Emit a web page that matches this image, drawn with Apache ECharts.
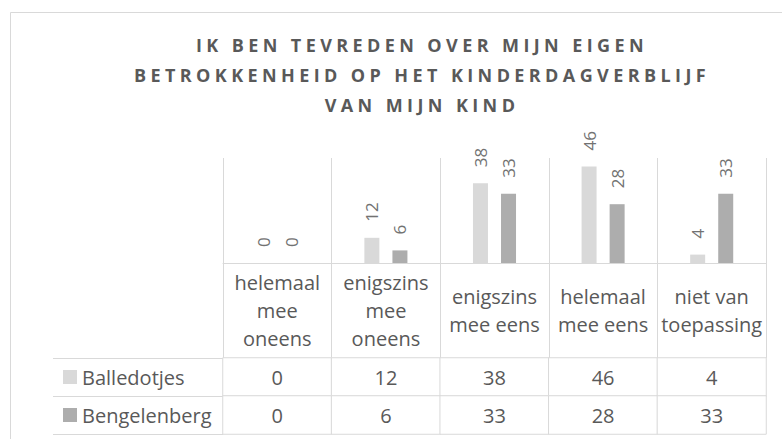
<!DOCTYPE html>
<html>
<head>
<meta charset="utf-8">
<title>Betrokkenheid kinderdagverblijf</title>
<script src="https://cdn.jsdelivr.net/npm/echarts@6/dist/echarts.min.js"></script>
<style>
  html, body { margin: 0; padding: 0; background: #fff; }
  #chart { width: 782px; height: 439px; }
</style>
</head>
<body>
<div id="chart"></div>
<script>
// chart data
var titleLines = ['IK BEN TEVREDEN OVER MIJN EIGEN', 'BETROKKENHEID OP HET KINDERDAGVERBLIJF', 'VAN MIJN KIND'];
var categories = ['helemaal\nmee\noneens', 'enigszins\nmee\noneens', 'enigszins\nmee eens', 'helemaal\nmee eens', 'niet van\ntoepassing'];
var seriesNames = ['Balledotjes', 'Bengelenberg'];
var balledotjes = [0, 12, 38, 46, 4];
var bengelenberg = [0, 6, 33, 28, 33];
var seriesColors = ['#d9d9d9', '#adadad'];

var font = 'Open Sans';
var lineColor = '#d9d9d9';
var textColor = '#595959';

// cells of the data table below the plot
var rows = [balledotjes, bengelenberg];
var tableCells = [];
rows.forEach(function (vals, r) {
    vals.forEach(function (v, c) {
        tableCells.push([c, r, v]);
    });
});

var barLabel = {
    show: true,
    position: 'top',
    distance: 16,
    rotate: 90,
    align: 'left',
    verticalAlign: 'middle',
    fontFamily: font,
    fontSize: 17,
    color: '#727272'
};

var option = {
    animation: false,
    backgroundColor: '#fff',
    title: {
        text: titleLines.join('\n'),
        left: 422,
        top: 30,
        padding: 0,
        textAlign: 'center',
        textStyle: {
            fontFamily: font,
            fontSize: 18,
            fontWeight: 'bold',
            color: textColor,
            lineHeight: 30
        }
    },
    graphic: [{
        type: 'rect',
        left: 8,
        top: 10,
        shape: { width: 820, height: 460 },
        style: { fill: 'none', stroke: lineColor, lineWidth: 1 },
        silent: true
    }],
    grid: [
        { left: 223, right: 16, top: 158, bottom: 176 },
        { left: 223, right: 16, top: 358, bottom: 5 }
    ],
    xAxis: [
        {
            gridIndex: 0,
            type: 'category',
            data: categories,
            axisLine: { lineStyle: { color: lineColor } },
            axisTick: { show: true, length: 95, lineStyle: { color: lineColor } },
            splitLine: { show: true, lineStyle: { color: lineColor } },
            axisLabel: {
                interval: 0,
                margin: 47.5,
                verticalAlign: 'middle',
                fontFamily: font,
                fontSize: 20,
                lineHeight: 28,
                color: textColor
            }
        },
        {
            gridIndex: 1,
            type: 'category',
            data: categories,
            show: false
        }
    ],
    yAxis: [
        { gridIndex: 0, type: 'value', min: 0, max: 50, show: false },
        {
            gridIndex: 1,
            type: 'category',
            data: seriesNames,
            inverse: true,
            axisLine: { show: false },
            axisTick: { show: true, length: 170, lineStyle: { color: lineColor } },
            splitLine: { show: false },
            axisLabel: {
                margin: 160,
                align: 'left',
                formatter: function (value, idx) {
                    return '{k' + idx + '|}{n|' + value + '}';
                },
                rich: {
                    k0: { width: 14, height: 14, backgroundColor: seriesColors[0] },
                    k1: { width: 14, height: 14, backgroundColor: seriesColors[1] },
                    n: { fontFamily: font, fontSize: 20, color: textColor, padding: [0, 0, 0, 5] }
                }
            }
        },
        {
            gridIndex: 1,
            type: 'category',
            data: seriesNames,
            offset: 170,
            axisLine: { show: true, lineStyle: { color: lineColor } },
            axisTick: { show: false },
            axisLabel: { show: false }
        }
    ],
    series: [
        {
            name: seriesNames[0],
            type: 'bar',
            xAxisIndex: 0,
            yAxisIndex: 0,
            data: balledotjes,
            barWidth: 15,
            barGap: '87%',
            itemStyle: { color: seriesColors[0] },
            label: barLabel
        },
        {
            name: seriesNames[1],
            type: 'bar',
            xAxisIndex: 0,
            yAxisIndex: 0,
            data: bengelenberg,
            barWidth: 15,
            itemStyle: { color: seriesColors[1] },
            label: barLabel
        },
        {
            name: 'tabel',
            type: 'heatmap',
            xAxisIndex: 1,
            yAxisIndex: 1,
            data: tableCells,
            silent: true,
            itemStyle: { color: '#fff', borderColor: lineColor, borderWidth: 1 },
            label: { show: true, fontFamily: font, fontSize: 20, color: textColor,
                formatter: function (p) { return p.value[2]; } },
            emphasis: { disabled: true }
        }
    ]
};

var chart = echarts.init(document.getElementById('chart'), null, { renderer: 'svg' });
chart.setOption(option);

// the title in the reference is letter-spaced; svg text accepts that directly
function spaceTitle() {
    var nodes = document.querySelectorAll('#chart svg text');
    for (var i = 0; i < nodes.length; i++) {
        if (titleLines.indexOf(nodes[i].textContent) >= 0) {
            nodes[i].style.letterSpacing = '4.4px';
        }
    }
}
spaceTitle();
chart.on('finished', spaceTitle);
setTimeout(spaceTitle, 50);
</script>
</body>
</html>
